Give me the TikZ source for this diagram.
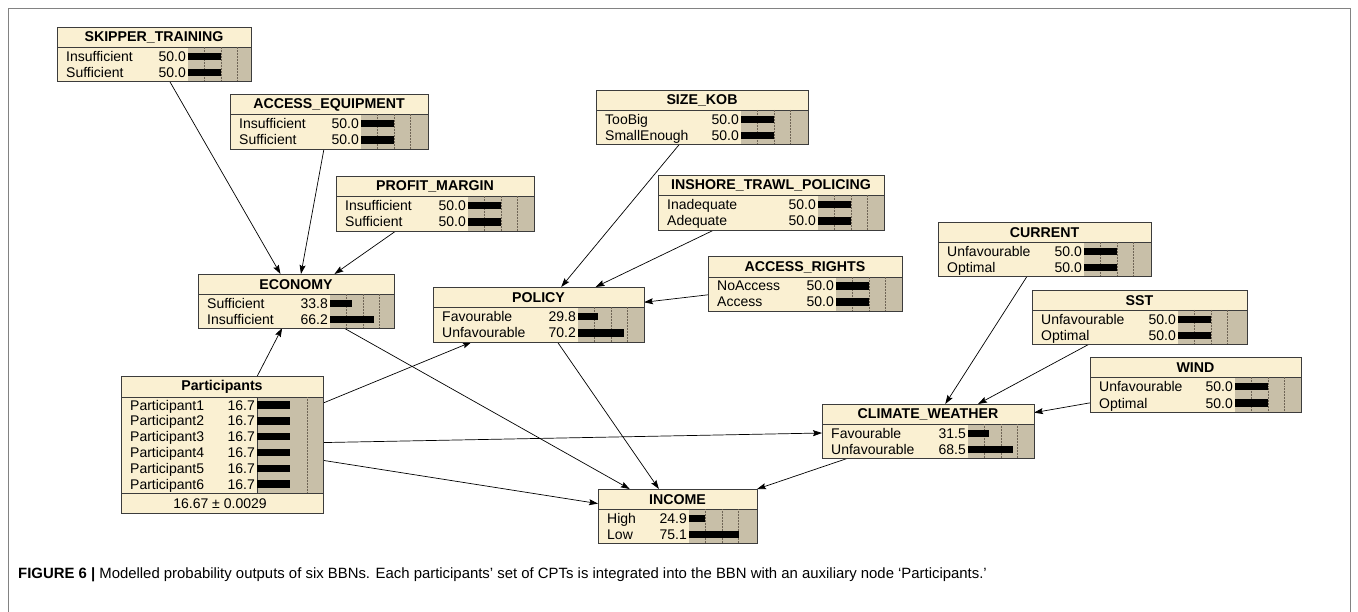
\documentclass[tikz,border=0pt]{standalone}
\usepackage{fontspec}
\setmainfont{Liberation Sans}
\usetikzlibrary{arrows.meta,backgrounds}
\definecolor{cream}{RGB}{250,240,210}
\definecolor{barbg}{RGB}{200,191,168}
\definecolor{gridc}{RGB}{110,100,85}
\definecolor{boxc}{RGB}{60,60,60}
\definecolor{framec}{RGB}{130,130,130}
\newcommand{\bbnbox}[8]{%
  \pgfmathsetmacro\bbw{#4-#2}\pgfmathsetmacro\bbh{#5-#3}%
  \node[boxfill, minimum width=\bbw pt, minimum height=\bbh pt] (#1) at ({(#2+#4)/2},{(#3+#5)/2}) {};
  \fill[barbg] (#7,#6) rectangle (#4,#5);
  \draw[boxline] (#2,#6) -- (#4,#6);
  \node[ttxt] (#1-title) at ({(#2+#4)/2},{(#3+#6)/2+0.5}) {#8};
}
\newcommand{\bbngrid}[4]{% bs, top, bottom, dummy
  \foreach \gx in {16.5,33,49.5} {\draw[gridline] ({#1+\gx},#2) -- ({#1+\gx},#3);}
}
\newcommand{\bbnrow}[7]{% id, L, bs, y, label, value, len
  \node[stxt, anchor=base west] (#1l) at ({#2+9},{#4+5}) {#5};
  \node[stxt, anchor=base east] (#1v) at ({#3-2},{#4+5}) {#6};
  \fill[black] (#3,{#4-3.7}) rectangle ({#3+#7},{#4+3.7});
}
\newcommand{\bbnborder}[1]{\draw[boxline] (#1.north west) rectangle (#1.south east);}
\begin{document}
\begin{tikzpicture}[x=1pt,y=-1pt,
  boxfill/.style={fill=cream, draw=none, inner sep=0pt, outer sep=0pt},
  boxline/.style={draw=boxc, line width=0.7pt},
  gridline/.style={draw=gridc, line width=0.5pt, densely dotted},
  ttxt/.style={font=\fontsize{14.2}{16}\selectfont\bfseries, inner sep=0pt},
  stxt/.style={font=\fontsize{14}{16}\selectfont, inner sep=0pt},
  edge/.style={draw=black, line width=0.7pt, -{Stealth[length=9pt,width=6pt,inset=1.5pt]}},
  captxt/.style={font=\fontsize{14.9}{17}\selectfont, inner sep=0pt}
]
\useasboundingbox (0,0) rectangle (1358,612);
\draw[framec, line width=0.8pt] (8,614) -- (8,8) -- (1350,8) -- (1350,614);

% SKIPPER_TRAINING
\bbnbox{skip}{57}{27}{251}{81}{47}{188}{SKIPPER\_TRAINING}
\bbngrid{188}{47}{81}{}
\bbnrow{skipa}{57}{188}{56.5}{Insufficient}{50.0}{33}
\bbnrow{skipb}{57}{188}{72.5}{Sufficient}{50.0}{33}
\bbnborder{skip}

% ACCESS_EQUIPMENT
\bbnbox{acceq}{230}{94}{428}{149}{114}{361}{ACCESS\_EQUIPMENT}
\bbngrid{361}{114}{149}{}
\bbnrow{acceqa}{230}{361}{123.5}{Insufficient}{50.0}{33}
\bbnrow{acceqb}{230}{361}{140}{Sufficient}{50.0}{33}
\bbnborder{acceq}

% PROFIT_MARGIN
\bbnbox{profit}{336}{176}{534}{231}{196}{468}{PROFIT\_MARGIN}
\bbngrid{468}{196}{231}{}
\bbnrow{profita}{336}{468}{205.5}{Insufficient}{50.0}{33}
\bbnrow{profitb}{336}{468}{222}{Sufficient}{50.0}{33}
\bbnborder{profit}

% SIZE_KOB
\bbnbox{sizekob}{596}{90}{808}{144}{110}{741}{SIZE\_KOB}
\bbngrid{741}{110}{144}{}
\bbnrow{sizea}{596}{741}{119.5}{TooBig}{50.0}{33}
\bbnrow{sizeb}{596}{741}{135.5}{SmallEnough}{50.0}{33}
\bbnborder{sizekob}

% INSHORE_TRAWL_POLICING
\bbnbox{inshore}{658}{175}{884}{230}{195}{818}{INSHORE\_TRAWL\_POLICING}
\bbngrid{818}{195}{230}{}
\bbnrow{insa}{658}{818}{204.5}{Inadequate}{50.0}{33}
\bbnrow{insb}{658}{818}{221}{Adequate}{50.0}{33}
\bbnborder{inshore}

% ACCESS_RIGHTS
\bbnbox{accr}{708}{256}{902}{311}{277}{836}{ACCESS\_RIGHTS}
\bbngrid{836}{277}{311}{}
\bbnrow{accra}{708}{836}{286}{NoAccess}{50.0}{33}
\bbnrow{accrb}{708}{836}{302}{Access}{50.0}{33}
\bbnborder{accr}

% POLICY
\bbnbox{policy}{433}{287}{644}{342}{307}{578}{POLICY}
\bbngrid{578}{307}{342}{}
\bbnrow{pola}{433}{578}{316.5}{Favourable}{29.8}{19.7}
\bbnrow{polb}{433}{578}{333}{Unfavourable}{70.2}{46.3}
\bbnborder{policy}

% ECONOMY
\bbnbox{econ}{198}{274}{394}{328}{294}{330}{ECONOMY}
\bbngrid{330}{294}{328}{}
\bbnrow{econa}{198}{330}{303.5}{Sufficient}{33.8}{22.3}
\bbnrow{econb}{198}{330}{319.5}{Insufficient}{66.2}{43.7}
\bbnborder{econ}

% CURRENT
\bbnbox{current}{938}{222}{1151}{276}{242}{1084}{CURRENT}
\bbngrid{1084}{242}{276}{}
\bbnrow{cura}{938}{1084}{251.5}{Unfavourable}{50.0}{33}
\bbnrow{curb}{938}{1084}{267.5}{Optimal}{50.0}{33}
\bbnborder{current}

% SST
\bbnbox{sst}{1032}{290}{1247}{344}{310}{1178}{SST}
\bbngrid{1178}{310}{344}{}
\bbnrow{ssta}{1032}{1178}{319.5}{Unfavourable}{50.0}{33}
\bbnrow{sstb}{1032}{1178}{335.5}{Optimal}{50.0}{33}
\bbnborder{sst}

% WIND
\bbnbox{wind}{1090}{357}{1301}{412}{377}{1235}{WIND}
\bbngrid{1235}{377}{412}{}
\bbnrow{winda}{1090}{1235}{386.5}{Unfavourable}{50.0}{33}
\bbnrow{windb}{1090}{1235}{403}{Optimal}{50.0}{33}
\bbnborder{wind}

% CLIMATE_WEATHER
\bbnbox{cw}{822}{404}{1034}{458}{424}{968}{CLIMATE\_WEATHER}
\bbngrid{968}{424}{458}{}
\bbnrow{cwa}{822}{968}{433.5}{Favourable}{31.5}{20.8}
\bbnrow{cwb}{822}{968}{449.5}{Unfavourable}{68.5}{45.2}
\bbnborder{cw}

% INCOME
\bbnbox{income}{598}{489}{757}{543}{509}{689}{INCOME}
\bbngrid{689}{509}{543}{}
\bbnrow{inca}{598}{689}{518.5}{High}{24.9}{16.4}
\bbnrow{incb}{598}{689}{534.5}{Low}{75.1}{49.6}
\bbnborder{income}

% Participants
\bbnbox{part}{121}{376}{323}{513}{397}{257}{Participants}
\fill[cream] (257,493) rectangle (323,513);
\draw[gridline] (307,397) -- (307,493);
\draw[boxline] (257,397) -- (257,493);
\bbnrow{pa}{121}{257}{405}{Participant1}{16.7}{33}
\bbnrow{pb}{121}{257}{420.8}{Participant2}{16.7}{33}
\bbnrow{pc}{121}{257}{436.6}{Participant3}{16.7}{33}
\bbnrow{pd}{121}{257}{452.4}{Participant4}{16.7}{33}
\bbnrow{pe}{121}{257}{468.2}{Participant5}{16.7}{33}
\bbnrow{pf}{121}{257}{484}{Participant6}{16.7}{33}
\draw[boxline] (121,493) -- (323,493);
\node[stxt] (part-foot) at (220,503.5) {16.67 ± 0.0029};
\bbnborder{part}

% edges
\begin{scope}[on background layer]
\fill[white] (0,0) rectangle (1358,612);
\draw[edge] (skip) -- (econ);
\draw[edge] (acceq) -- (econ);
\draw[edge] (profit) -- (econ);
\draw[edge] (sizekob) -- (policy);
\draw[edge] (inshore) -- (policy);
\draw[edge] (accr) -- (policy);
\draw[edge] (part) -- (econ);
\draw[edge] (part) -- (policy);
\draw[edge] (part) -- (cw);
\draw[edge] (part) -- (income);
\draw[edge] (econ) -- (income);
\draw[edge] (policy) -- (income);
\draw[edge] (cw) -- (income);
\draw[edge] (current) -- (cw);
\draw[edge] (sst) -- (cw);
\draw[edge] (wind) -- (cw);
\end{scope}

% caption
\node[captxt, anchor=base west] (caption) at (18,578) {\textbf{FIGURE 6 |} Modelled probability outputs of six BBNs. Each participants’ set of CPTs is integrated into the BBN with an auxiliary node ‘Participants.’};
\end{tikzpicture}
\end{document}
